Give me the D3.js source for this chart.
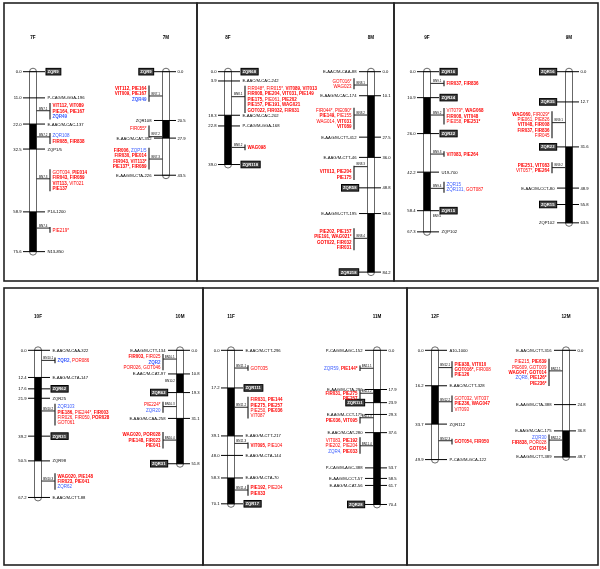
<!DOCTYPE html>
<html>
<head>
<meta charset="utf-8">
<script src="https://cdn.jsdelivr.net/npm/d3@7"></script>
<style>
  body { margin: 0; background: #fff; }
  svg { display: block; font-family: "Liberation Sans", Arial, sans-serif; opacity: 0.999; will-change: transform; }
</style>
</head>
<body>
<div id="chart"></div>
<script>
// linkage groups, F = female map, M = male map
var chromNames = ["7F", "7M", "8F", "8M", "9F", "9M", "10F", "10M", "11F", "11M", "12F", "12M"];

// markers: [cM, name, boxed]
var markers7F = [[0.0, "ZQR9", 1], [11.0, "P-CAG/M-GGA-196"], [22.0, "E-AAC/M-CAC-137"], [32.5, "ZQP1/5"], [58.9, "P14-1200"], [75.6, "N13-850"]];
var markers7M = [[0.0, "ZQR9", 1], [20.5, "ZQR108"], [27.9, "E-AAC/M-CAT-352"], [43.5, "E-AAG/M-CTA-226"]];
var markers8F = [[0.0, "ZQR68", 1], [3.9, "E-AAC/M-CAC-242"], [18.3, "E-AAC/M-CAC-202"], [22.8, "P-CAG/M-GGA-168"], [39.0, "ZQR118", 1]];
var markers8M = [[0.0, "E-AAC/M-CAA-88"], [10.1, "E-AAG/M-CAC-174"], [27.5, "E-AAG/M-CTT-412"], [36.0, "E-AAG/M-CTT-46"], [48.8, "ZQR58", 1], [59.6, "E-AAG/M-CTT-195"], [84.2, "ZQR218", 1]];
var markers9F = [[0.0, "ZQR16", 1], [10.9, "ZQR24", 1], [26.0, "ZQR22", 1], [42.2, "U19-700"], [58.4, "ZQR15", 1], [67.3, "ZQP102"]];
var markers9M = [[0.0, "ZQR16", 1], [12.7, "ZQR35", 1], [31.6, "ZQR22", 1], [48.9, "E-AAC/M-CCT-80"], [55.8, "ZQR15", 1], [63.5, "ZQP102"]];
var markers10F = [[0.0, "E-AAC/M-CAA-322"], [12.4, "E-AAG/M-CTA-147"], [17.6, "ZQR62", 1], [21.9, "ZQR25"], [39.2, "ZQR31", 1], [50.5, "ZQR98"], [67.2, "E-AAC/M-CTT-88"]];
var markers10M = [[0.0, "E-AAG/M-CTT-134"], [10.8, "E-AAC/M-CAT-97"], [19.3, "ZQR62", 1], [31.1, "E-AAG/M-CAA-258"], [51.8, "ZQR31", 1]];
var markers11F = [[0.0, "E-AAC/M-CTT-296"], [17.2, "ZQR111", 1], [39.1, "E-AAG/M-CTT-217"], [48.0, "E-AAG/M-CTA-144"], [58.3, "E-AAG/M-CTA-70"], [70.1, "ZQR17", 1]];
var markers11M = [[0.0, "P-CAG/M-AGC-152"], [17.9, "E-AAG/M-CTA-296"], [23.9, "ZQR111", 1], [29.3, "E-AAG/M-CCT-175"], [37.6, "E-AAC/M-CAT-280"], [53.7, "P-CAG/M-AGC-388"], [58.5, "E-AAG/M-CCT-57"], [61.7, "E-AAG/M-CAT-56"], [70.4, "ZQR28", 1]];
var markers12F = [[0.0, "A10-1000"], [16.2, "E-AAC/M-CTT-328"], [33.7, "ZQR112"], [49.9, "P-CAG/M-GCA-122"]];
var markers12M = [[0.0, "E-AAC/M-CTT-316"], [24.8, "E-AAG/M-CTA-388"], [36.8, "E-AAG/M-CAC-175"], [48.7, "E-AAG/M-CTT-389"]];

// filled (black) stretches of each group, [from cM, to cM]
var black7F = [[22.0, 32.5], [58.9, 75.6]];
var black7M = [[20.5, 27.9]];
var black8F = [[18.3, 39.0]];
var black8M = [[10.1, 36.0], [59.6, 84.2]];
var black9F = [[10.9, 26.0], [42.2, 58.4]];
var black9M = [[31.6, 63.5]];
var black10F = [[12.4, 50.5]];
var black10M = [[10.8, 19.3], [31.1, 51.8]];
var black11F = [[17.2, 39.1], [58.3, 70.1]];
var black11M = [[17.9, 23.9], [37.6, 70.4]];
var black12F = [[16.2, 33.7]];
var black12M = [[36.8, 48.7]];

// QTL: [name, peak cM, cM where its marker list sits, lines]
// "-" before a marker = weaker association
var qtl7F = [
    ["BN7.1", 16.4, 16.6, [["VIT112", "VIT089"], ["PIE164", "PIE167"], ["ZQR49"]]],
    ["BN7.2", 27.4, 28.1, [["-ZQR108"], ["FIR085", "FIR838"]]],
    ["BN7.3", 45.0, 45.6, [["-GOT034", "PIE014"], ["FIR043", "FIR089"], ["VIT113", "-VIT021"], ["PIE137"]]],
    ["BN7.4", 65.7, 66.5, [["-PIE219*"]]]
];
var qtl7M = [
    ["BN7.1", 10.2, 9.2, [["VIT112", "PIE164"], ["VIT009", "PIE167"], ["ZQR49"]]],
    ["BN7.2", 27.3, 23.8, [["-FIR055*"]]],
    ["BN7.3", 36.7, 36.5, [["FIR006", "-ZQP1/5"], ["FIR030", "PIE014"], ["FIR043", "VIT113*"], ["PIE137*", "FIR089"]]]
];
var qtl8F = [
    ["BN8.1", 10.5, 11.6, [["-FIR048*", "-FIR015*", "VIT089", "VIT013"], ["FIR008", "PIE204", "VIT031", "PIE149"], ["PIE175", "-PIE061", "PIE202"], ["PIE157", "PIE191", "WAG021"], ["GOT022", "FIR032", "FIR031"]]],
    ["BN8.2", 31.8, 31.8, [["WAG098"]]]
];
var qtl8M = [
    ["BN8.1", 5.6, 5.1, [["-GOT016*"], ["-WAG023"]]],
    ["BN8.2", 18.2, 19.7, [["-FIR044*", "-PIE090*"], ["PIE149", "-PIE155"], ["-WAG014", "VIT031"], ["VIT089"]]],
    ["BN8.3", 39.9, 43.2, [["VIT013", "PIE204"], ["PIE175"]]],
    ["BN8.4", 70.0, 70.4, [["PIE202", "PIE157"], ["PIE191", "WAG021*"], ["GOT022", "FIR032"], ["FIR031"]]]
];
var qtl9F = [
    ["BN9.1", 4.9, 4.9, [["FIR037", "FIR836"]]],
    ["BN9.2", 18.2, 18.7, [["-VIT079*", "WAG068"], ["FIR008", "VIT048"], ["-PIE058", "PIE251*"]]],
    ["BN9.3", 34.6, 34.6, [["VIT083", "PIE264"]]],
    ["BN9.4", 49.0, 48.5, [["-ZQR15"], ["-ZQR131", "-GOT087"]]],
    ["BN9.5", 61.1, 61.1, []]
];
var qtl9M = [
    ["BN9.1", 21.4, 22.3, [["WAG060", "-FIR029*"], ["-PIE061", "-PIE826"], ["VIT048", "FIR008"], ["FIR037", "FIR836"], ["-FIR045"]]],
    ["BN9.2", 40.3, 40.4, [["PIE251", "VIT083"], ["-VIT057*", "PIE264"]]]
];
var qtl10F = [
    ["BN10.1", 4.6, 4.6, [["ZQR2", "-POR086"]]],
    ["BN10.2", 27.7, 29.4, [["-ZQR103"], ["PIE186", "-PIE244*", "FIR003"], ["-FIR026", "-FIR050", "POR028"], ["-GOT061"]]],
    ["BN10.3", 59.7, 59.9, [["WAG020", "PIE148"], ["FIR023", "PIE041"], ["-ZQR62"]]]
];
var qtl10M = [
    ["BN10.1", 4.0, 5.4, [["FIR003", "-FIR025"], ["ZQR2"], ["-POR026", "-GOT046"]]],
    ["BN10.2", 14.3, 14.3, []],
    ["BN10.3", 25.7, 26.0, [["-PIE224*"], ["-ZQR20"]]],
    ["BN10.4", 41.0, 41.1, [["WAG020", "POR028"], ["PIE148", "FIR023"], ["PIE041"]]]
];
var qtl11F = [
    ["BN11.1", 8.1, 8.1, [["-GOT035"]]],
    ["BN11.2", 26.0, 26.2, [["FIR031", "PIE144"], ["PIE275", "PIE257"], ["-PIE250", "PIE036"], ["-VIT087"]]],
    ["BN11.3", 42.5, 43.6, [["VIT095", "-PIE104"]]],
    ["BN11.4", 63.8, 63.9, [["PIE192", "-PIE204"], ["PIE033"]]]
];
var qtl11M = [
    ["BN11.1", 8.2, 8.2, [["-ZQR59", "PIE144*"]]],
    ["BN11.2", 19.6, 20.7, [["FIR031", "PIE275"], ["PIE257"]]],
    ["BN11.3", 30.8, 32.2, [["PIE036", "VIT095"]]],
    ["BN11.4", 43.6, 43.5, [["-VIT083", "PIE192"], ["-PIE202", "-PIE204"], ["-ZQR4", "PIE033"]]]
];
var qtl12F = [
    ["BN12.1", 7.9, 8.7, [["PIE938", "VIT010"], ["GOT016*", "-FIR008"], ["PIE126"]]],
    ["BN12.2", 23.5, 24.4, [["-GOT032", "-VIT037"], ["PIE236", "WAG047"], ["-VIT093"]]],
    ["BN12.3", 41.3, 41.7, [["GOT054", "FIR050"]]]
];
var qtl12M = [
    ["BN12.1", 9.4, 10.1, [["-PIE215", "PIE639"], ["-PIE609", "-GOT009"], ["WAG047", "GOT014"], ["-ZQR8", "PIE126*"], ["PIE236*"]]],
    ["BN12.2", 41.0, 42.2, [["-ZQR30"], ["FIR838", "-POR028"], ["GOT054"]]]
];

var markerSets = { "7F": markers7F, "7M": markers7M, "8F": markers8F, "8M": markers8M, "9F": markers9F, "9M": markers9M,
    "10F": markers10F, "10M": markers10M, "11F": markers11F, "11M": markers11M, "12F": markers12F, "12M": markers12M };
var blackSets = { "7F": black7F, "7M": black7M, "8F": black8F, "8M": black8M, "9F": black9F, "9M": black9M,
    "10F": black10F, "10M": black10M, "11F": black11F, "11M": black11M, "12F": black12F, "12M": black12M };
var qtlSets = { "7F": qtl7F, "7M": qtl7M, "8F": qtl8F, "8M": qtl8M, "9F": qtl9F, "9M": qtl9M,
    "10F": qtl10F, "10M": qtl10M, "11F": qtl11F, "11M": qtl11M, "12F": qtl12F, "12M": qtl12M };

// ---- layout ----
var width = 600, height = 569;
var rowsLayout = [
    { top: 3, bottom: 281, edges: [4, 197, 394, 598], y0: 71.7, k: 2.38, titleY: 39 },
    { top: 288, bottom: 565, edges: [4, 203, 407, 598], y0: 350.3, k: 2.19, titleY: 318 }
];
var barX = { "7F": 33, "7M": 166, "8F": 228, "8M": 371, "9F": 427, "9M": 569,
    "10F": 38, "10M": 180, "11F": 231, "11M": 377, "12F": 435, "12M": 566 };

var red = "#ff0000", blue = "#3a5cff";
var hw = 3.5;       // half width of a chromosome bar
var lineH = 5.4;    // QTL text line height

var svg = d3.select("#chart")
    .append("svg")
    .attr("width", width)
    .attr("height", height);

// panel frames
rowsLayout.forEach(function (row) {
    for (var i = 0; i < 3; i++) {
        svg.append("rect")
            .attr("x", row.edges[i])
            .attr("y", row.top)
            .attr("width", row.edges[i + 1] - row.edges[i])
            .attr("height", row.bottom - row.top)
            .attr("fill", "none")
            .attr("stroke", "#222")
            .attr("stroke-width", 1.6);
    }
});

chromNames.forEach(function (name, idx) {
    var row = rowsLayout[idx < 6 ? 0 : 1];
    var y = d3.scaleLinear().domain([0, 100]).range([row.y0, row.y0 + 100 * row.k]);
    var cx = barX[name];
    var isF = name.slice(-1) === "F";
    var dir = isF ? 1 : -1;
    var mk = markerSets[name];
    var len = d3.max(mk, function (d) { return d[0]; });
    var g = svg.append("g").attr("class", "chrom");

    g.append("text")
        .attr("x", cx)
        .attr("y", row.titleY)
        .attr("text-anchor", "middle")
        .attr("font-weight", "bold")
        .attr("font-size", 4.6)
        .text(name);

    // rounded ends
    g.append("path")
        .attr("d", "M" + (cx - hw) + "," + y(0) + "A" + hw + "," + hw + " 0 0 1 " + (cx + hw) + "," + y(0))
        .attr("fill", "#fff").attr("stroke", "#444").attr("stroke-width", 0.8);
    g.append("path")
        .attr("d", "M" + (cx - hw) + "," + y(len) + "A" + hw + "," + hw + " 0 0 0 " + (cx + hw) + "," + y(len))
        .attr("fill", "#fff").attr("stroke", "#444").attr("stroke-width", 0.8);

    // bar body
    g.append("rect")
        .attr("x", cx - hw).attr("y", y(0))
        .attr("width", 2 * hw).attr("height", y(len) - y(0))
        .attr("fill", "#fff").attr("stroke", "#444").attr("stroke-width", 0.8);
    g.selectAll(".blk")
        .data(blackSets[name])
        .enter()
        .append("rect")
        .attr("x", cx - hw).attr("y", function (d) { return y(d[0]); })
        .attr("width", 2 * hw).attr("height", function (d) { return y(d[1]) - y(d[0]); })
        .attr("fill", "#000");

    // marker ticks and labels
    mk.forEach(function (m) {
        var yy = y(m[0]);
        g.append("line")
            .attr("x1", cx - dir * 10).attr("x2", cx + dir * 12)
            .attr("y1", yy).attr("y2", yy)
            .attr("stroke", "#000").attr("stroke-width", 1);
        g.append("text")
            .attr("x", cx - dir * 11.5).attr("y", yy).attr("dy", "0.35em")
            .attr("text-anchor", isF ? "end" : "start")
            .attr("font-size", 4.2)
            .text(m[0].toFixed(1));
        var t = g.append("text")
            .attr("x", cx + dir * 14.5).attr("y", yy).attr("dy", "0.35em")
            .attr("text-anchor", isF ? "start" : "end")
            .attr("font-size", 4.2)
            .text(m[1]);
        if (m[2]) {
            var bb = t.node().getBBox();
            g.insert("rect", function () { return t.node(); })
                .attr("x", bb.x - 1.5).attr("y", bb.y - 0.8)
                .attr("width", bb.width + 3).attr("height", bb.height + 1.6)
                .attr("fill", "#444").attr("stroke", "#000").attr("stroke-width", 1);
            t.attr("fill", "#fff").attr("font-weight", "bold");
        }
    });

    // QTL brackets
    qtlSets[name].forEach(function (q) {
        var yp = y(q[1]), yc = y(q[2]);
        var lines = q[3];
        var xs = cx + dir * hw, xv = cx + dir * 17, xt = cx + dir * 19.5;
        if (!lines.length) {
            g.append("text")
                .attr("x", cx + dir * 10).attr("y", yc)
                .attr("text-anchor", "middle").attr("font-size", 3)
                .text(q[0]);
            return;
        }
        var n = lines.length;
        var yTop = Math.min(yc - (n - 1) / 2 * lineH - 2.8, yp - 1);
        var yBot = Math.max(yc + (n - 1) / 2 * lineH + 2.8, yp + 1);
        g.append("line")
            .attr("x1", xs).attr("x2", xv).attr("y1", yp).attr("y2", yp)
            .attr("stroke", "#222").attr("stroke-width", 1);
        g.append("line")
            .attr("x1", xv).attr("x2", xv)
            .attr("y1", yTop).attr("y2", yBot)
            .attr("stroke", "#222").attr("stroke-width", 1.2);
        g.append("text")
            .attr("x", (xs + xv) / 2).attr("y", yp - 1.2)
            .attr("text-anchor", "middle").attr("font-size", 3)
            .text(q[0]);
        lines.forEach(function (ln, i) {
            var t = g.append("text")
                .attr("x", xt)
                .attr("y", yc + (i - (n - 1) / 2) * lineH)
                .attr("dy", "0.35em")
                .attr("text-anchor", isF ? "start" : "end")
                .attr("font-size", 4.5);
            ln.forEach(function (tok, j) {
                var weak = tok[0] === "-";
                var label = weak ? tok.slice(1) : tok;
                var isZ = label[0] === "Z";
                t.append("tspan")
                    .attr("fill", isZ ? blue : red)
                    .attr("font-weight", weak ? "normal" : "bold")
                    .text(label + (j < ln.length - 1 ? ", " : ""));
            });
        });
    });
});
</script>
</body>
</html>
